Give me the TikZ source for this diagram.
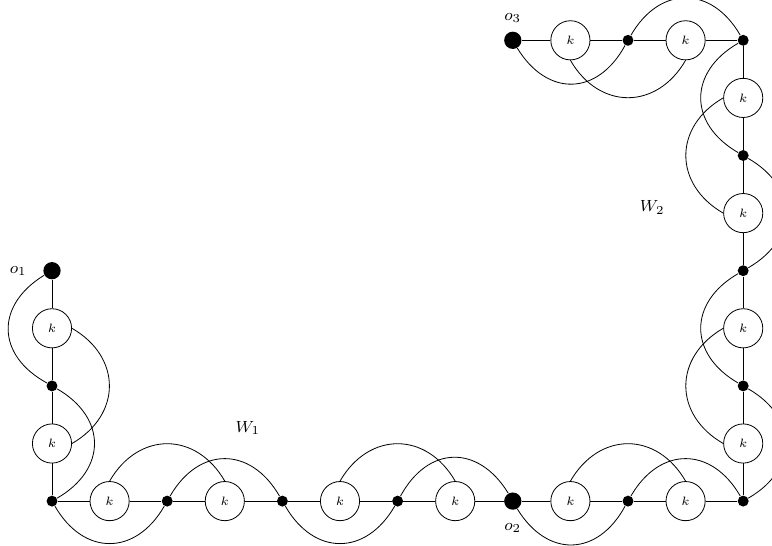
\documentclass[tikz,border=0pt]{standalone}
\usetikzlibrary{positioning}

\tikzset{
  knode/.style={circle,draw,fill=white,inner sep=0pt,minimum size=0.68cm,font=\fontsize{6}{7}\selectfont},
  smalldot/.style={circle,fill,inner sep=0pt,minimum size=0.19cm},
  bigdot/.style={circle,fill,inner sep=0pt,minimum size=0.3cm},
  tag/.style={font=\footnotesize},
  lbend/.style={bend left=60,distance=1cm},
  rbend/.style={bend right=60,distance=1cm}
}

\begin{document}
\begin{tikzpicture}
   \useasboundingbox (-0.903,-0.764) rectangle (12.5,8.70);
   \node[bigdot] (v0) at (0,4) {};
   \node[knode] (v1) at (0,3) {$k$};
   \node[smalldot] (v2) at (0,2) {};
   \node[knode] (v3) at (0,1) {$k$};
   \node[smalldot] (v4) at (0,0) {};
   \node[knode] (v5) at (1,0) {$k$};
   \node[smalldot] (v6) at (2,0) {};
   \node[knode] (v7) at (3,0) {$k$};
   \node[smalldot] (v8) at (4,0) {};
   \node[knode] (v9) at (5,0) {$k$};
   \node[smalldot] (v10) at (6,0) {};
   \node[knode] (v11) at (7,0) {$k$};
   \node[bigdot] (v12) at (8,0) {};
   \node[knode] (v13) at (9,0) {$k$};
   \node[smalldot] (v14) at (10,0) {};
   \node[knode] (v15) at (11,0) {$k$};
   \node[smalldot] (v16) at (12,0) {};
   \node[knode] (v17) at (12,1) {$k$};
   \node[smalldot] (v18) at (12,2) {};
   \node[knode] (v19) at (12,3) {$k$};
   \node[smalldot] (v20) at (12,4) {};
   \node[knode] (v21) at (12,5) {$k$};
   \node[smalldot] (v22) at (12,6) {};
   \node[knode] (v23) at (12,7) {$k$};
   \node[smalldot] (v24) at (12,8) {};
   \node[knode] (v25) at (11,8) {$k$};
   \node[smalldot] (v26) at (10,8) {};
   \node[knode] (v27) at (9,8) {$k$};
   \node[bigdot] (v28) at (8,8) {};
   \node[tag,left=0.16cm of v0] (lo1) {$o_1$};
   \node[tag,below=0.1cm of v12] (lo2) {$o_2$};
   \node[tag,above=0.03cm of v28] (lo3) {$o_3$};
   \node[tag] (lw1) at (3.4,1.27) {$W_1$};
   \node[tag] (lw2) at (10.42,5.1) {$W_2$};
   \draw (v0) -- (v1) -- (v2) -- (v3) -- (v4);
   \draw (v4) -- (v5) -- (v6) -- (v7) -- (v8) -- (v9) -- (v10) -- (v11) -- (v12);
   \draw (v12) -- (v13) -- (v14) -- (v15) -- (v16);
   \draw (v16) -- (v17) -- (v18) -- (v19) -- (v20) -- (v21) -- (v22) -- (v23) -- (v24);
   \draw (v24) -- (v25) -- (v26) -- (v27) -- (v28);
   \draw (v0) to[rbend] (v2);
   \draw (v1.east) to[lbend] (v3.east);
   \draw (v2) to[lbend] (v4);
   \draw (v4) to[rbend] (v6);
   \draw (v5.north) to[lbend] (v7.north);
   \draw (v6) to[lbend] (v8);
   \draw (v8) to[rbend] (v10);
   \draw (v9.north) to[lbend] (v11.north);
   \draw (v10) to[lbend] (v12);
   \draw (v12) to[rbend] (v14);
   \draw (v13.north) to[lbend] (v15.north);
   \draw (v14) to[lbend] (v16);
   \draw (v16) to[rbend] (v18);
   \draw (v17.west) to[lbend] (v19.west);
   \draw (v18) to[lbend] (v20);
   \draw (v20) to[rbend] (v22);
   \draw (v21.west) to[lbend] (v23.west);
   \draw (v22) to[lbend] (v24);
   \draw (v24) to[rbend] (v26);
   \draw (v25.south) to[lbend] (v27.south);
   \draw (v26) to[lbend] (v28);
\end{tikzpicture}
\end{document}
